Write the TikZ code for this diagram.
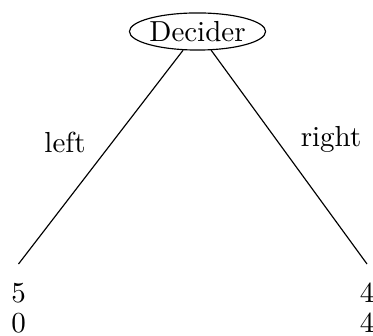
\documentclass[tikz,border=0pt]{standalone}
\usetikzlibrary{shapes.geometric}
\begin{document}
\begin{tikzpicture}[x=0.345pt,y=-0.345pt,
  decider/.style={ellipse,draw,inner sep=0pt,minimum width=45.2pt,minimum height=12.8pt},
  leaf/.style={align=center,inner xsep=0pt,inner ysep=6.4pt,anchor=north,
    font=\fontsize{10}{10.4}\selectfont},
  edgelabel/.style={anchor=base,inner sep=0pt}]
  \useasboundingbox (0,0) rectangle (373,335);
  \node[decider] (dec) at (197.5,31.5) {Decider};
  \node[leaf] (lo) at (18.5,264) {5\\0};
  \node[leaf] (hi) at (367,264) {4\\4};
  \draw (dec) -- (lo.north);
  \draw (dec) -- (hi.north);
  \node[edgelabel] (lleft) at (65,153) {left};
  \node[edgelabel] (lright) at (331,147) {right};
\end{tikzpicture}
\end{document}
